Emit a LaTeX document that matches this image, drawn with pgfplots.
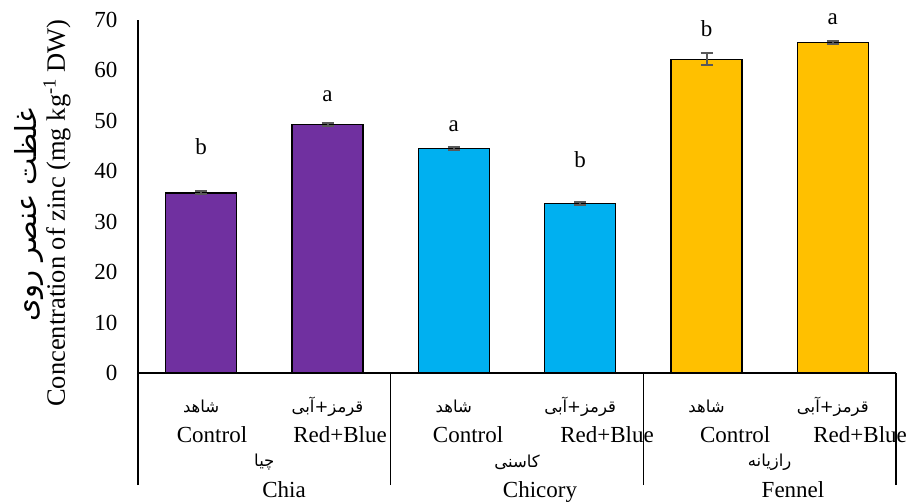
\documentclass[border=0pt]{standalone}
\usepackage{pgfplots}
\pgfplotsset{compat=1.18}
\usepackage{fontspec}
\setmainfont{Liberation Serif}
\newfontfamily\persianfont[Script=Arabic]{DejaVu Sans}
\TeXXeTstate=1
\definecolor{cpurple}{HTML}{7030A0}
\definecolor{cblue}{HTML}{00B0F0}
\definecolor{cgold}{HTML}{FFC000}
\definecolor{errgray}{HTML}{595959}
\newcommand{\fa}[1]{{\persianfont\fontsize{16.5}{19}\selectfont\beginR #1\endR}}
\newcommand{\en}{\fontsize{23}{26}\selectfont}
\begin{document}
\begin{tikzpicture}
\useasboundingbox (-138pt,-128pt) rectangle (774pt,373pt);
\begin{axis}[
 at={(0,0)}, anchor=south west,
 scale only axis, width=758pt, height=353pt,
 xmin=-0.5, xmax=5.5, ymin=0, ymax=70,
 axis x line*=bottom, axis y line*=left,
 axis line style={black, line width=1.3pt, -},
 xtick=\empty,
 extra x ticks={-0.5,1.5,3.5,5.5},
 extra x tick labels={},
 extra x tick style={tick align=outside, major tick length=112pt, tick style={black, line width=1.3pt}},
 ytick={0,10,...,70},
 y tick style={draw=none},
 yticklabel style={font=\en, xshift=-17pt},
 /pgf/number format/assume math mode=true,
 clip=false,
]
\addplot[ybar, bar width=71pt, bar shift=0pt, fill=cpurple, draw=black, line width=1.3pt,
 error bars/.cd, y dir=both, y explicit,
 error bar style={errgray, line width=2pt},
 error mark options={errgray, rotate=90, mark size=6pt, line width=2pt}]
 coordinates {(0,35.7) +- (0,0.3) (1,49.3) +- (0,0.3)};
\addplot[ybar, bar width=71pt, bar shift=0pt, fill=cblue, draw=black, line width=1.3pt,
 error bars/.cd, y dir=both, y explicit,
 error bar style={errgray, line width=2pt},
 error mark options={errgray, rotate=90, mark size=6pt, line width=2pt}]
 coordinates {(2,44.5) +- (0,0.3) (3,33.6) +- (0,0.3)};
\addplot[ybar, bar width=71pt, bar shift=0pt, fill=cgold, draw=black, line width=1.3pt,
 error bars/.cd, y dir=both, y explicit,
 error bar style={errgray, line width=2pt},
 error mark options={errgray, rotate=90, mark size=6pt, line width=2pt}]
 coordinates {(4,62.2) +- (0,1.2) (5,65.6) +- (0,0.3)};
% significance letters
\node[anchor=base, font=\en] at (axis cs:0,43.25) {b};
\node[anchor=base, font=\en] at (axis cs:1,53.8) {a};
\node[anchor=base, font=\en] at (axis cs:2,47.9) {a};
\node[anchor=base, font=\en] at (axis cs:3,40.7) {b};
\node[anchor=base, font=\en] at (axis cs:4,66.7) {b};
\node[anchor=base, font=\en] at (axis cs:5,69.2) {a};
% treatment labels
\node at (axis cs:0,-6.74) {\fa{شاهد}};
\node at (axis cs:1,-6.74) {\fa{قرمز+آبی}};
\node at (axis cs:2,-6.74) {\fa{شاهد}};
\node at (axis cs:3,-6.74) {\fa{قرمز+آبی}};
\node at (axis cs:4,-6.74) {\fa{شاهد}};
\node at (axis cs:5,-6.74) {\fa{قرمز+آبی}};
\node[anchor=base, font=\en] at (axis cs:0.086,-13.88) {Control};
\node[anchor=base, font=\en] at (axis cs:1.099,-13.88) {Red+Blue};
\node[anchor=base, font=\en] at (axis cs:2.113,-13.88) {Control};
\node[anchor=base, font=\en] at (axis cs:3.213,-13.88) {Red+Blue};
\node[anchor=base, font=\en] at (axis cs:4.227,-13.88) {Control};
\node[anchor=base, font=\en] at (axis cs:5.216,-13.88) {Red+Blue};
% group labels
\node at (axis cs:0.5,-17.65) {\fa{چیا}};
\node at (axis cs:2.5,-17.65) {\fa{کاسنی}};
\node at (axis cs:4.5,-17.65) {\fa{رازیانه}};
\node[anchor=base, font=\en] at (axis cs:0.656,-24.59) {Chia};
\node[anchor=base, font=\en] at (axis cs:2.682,-24.59) {Chicory};
\node[anchor=base, font=\en] at (axis cs:4.685,-24.59) {Fennel};
\end{axis}
\node[rotate=90, font=\fontsize{26.5}{30}\selectfont] at (-81pt,160pt) {Concentration of zinc (mg kg\textsuperscript{-1} DW)};
\node[rotate=90] at (-109pt,158pt) {{\persianfont\fontsize{29}{32}\selectfont\beginR غلظت عنصر روی\endR}};
\end{tikzpicture}
\end{document}
